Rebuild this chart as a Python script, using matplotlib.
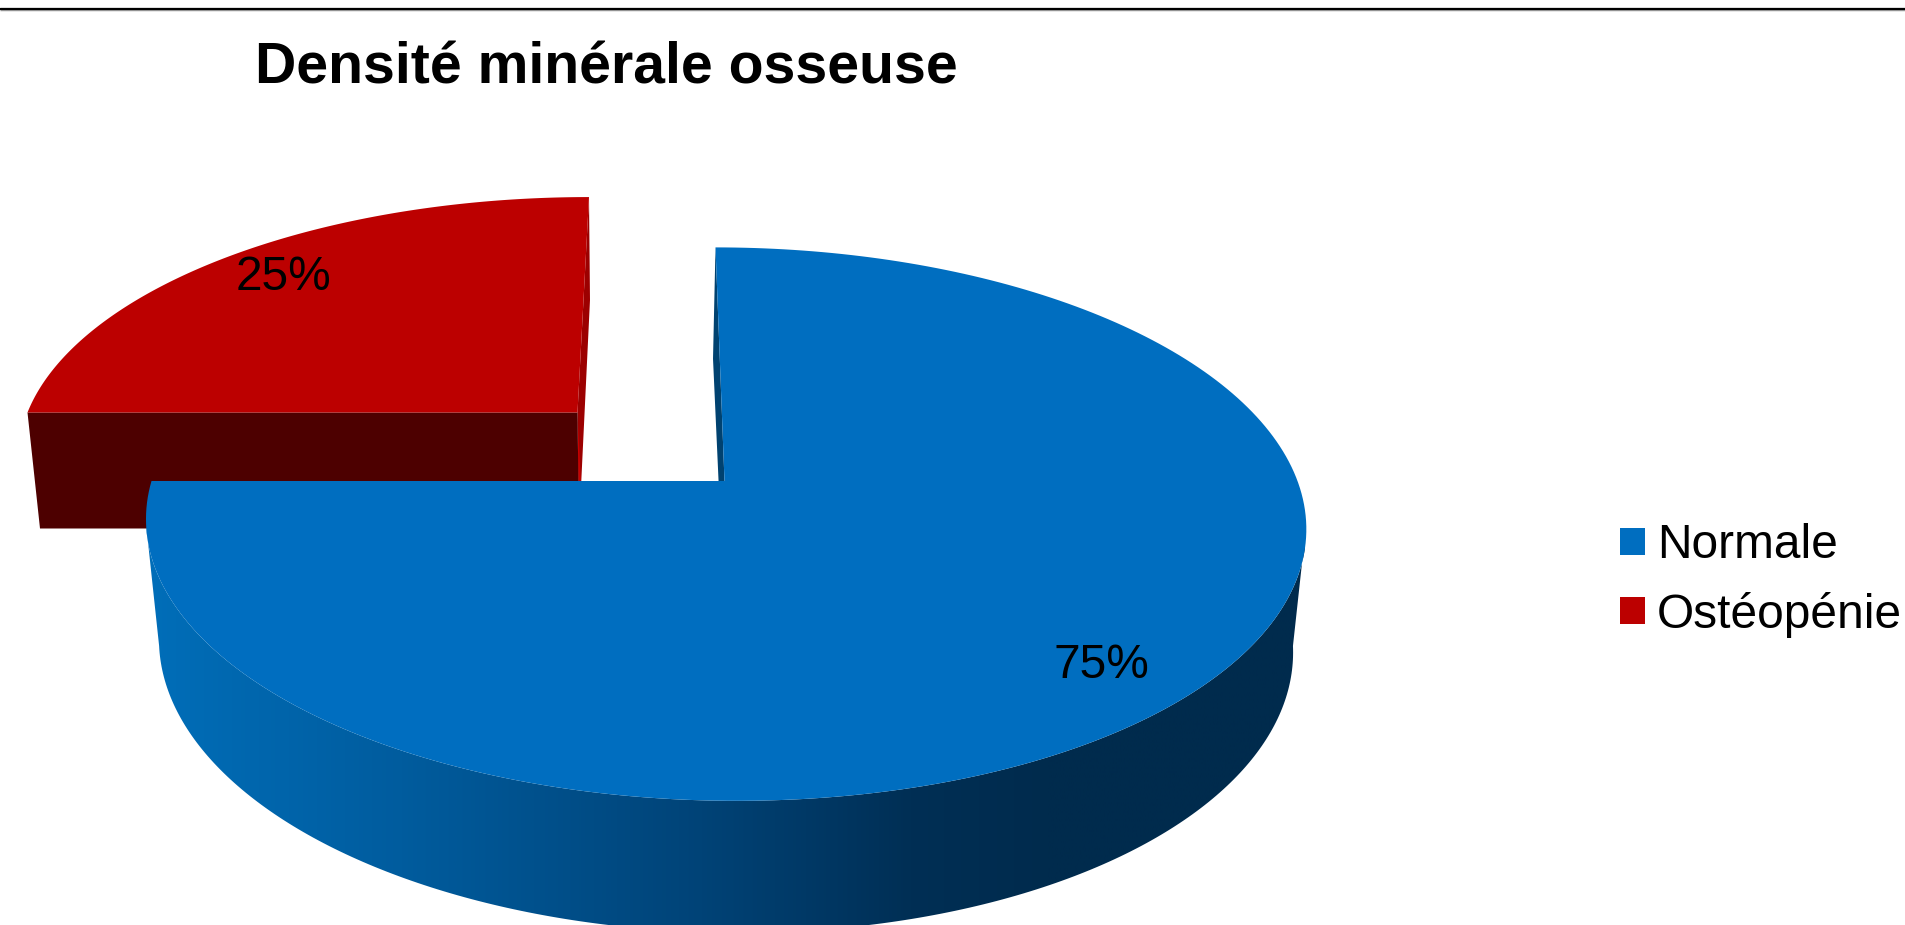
import numpy as np
import matplotlib
matplotlib.use("Agg")
import matplotlib.pyplot as plt
from matplotlib.colors import LinearSegmentedColormap
from matplotlib.patches import Polygon, Patch

plt.rcParams["font.family"] = ["Liberation Sans", "DejaVu Sans"]

TITLE = "Densité minérale osseuse"
categories = ["Normale", "Ostéopénie"]
values = [75, 25]
colors = ["#006EC0", "#BC0000"]

W, H = 1905, 925
fig = plt.figure(figsize=(W / 100, H / 100), dpi=100, facecolor="white")
ax = fig.add_axes([0, 0, 1, 1])
ax.set_axis_off()

TILT = 0.1558  # foreshortening of the far side of the disc

# Each disc level: apex position, horizontal and vertical radius, shear
BLUE_TOP = dict(x0=724.5, y0=481.0, a=573.0, b=270.0, s=-10.4)
BLUE_BOT = dict(x0=724.0, y0=601.0, a=560.0, b=280.0, s=-12.7)
RED_TOP = dict(x0=577.5, y0=412.5, a=550.0, b=249.0, s=13.3)
RED_BOT = dict(x0=579.0, y0=528.5, a=539.0, b=264.0, s=12.7)


def project(theta_deg, level):
    """Map a rim angle on the unit circle to canvas pixels with a perspective divide."""
    t = np.radians(np.asarray(theta_deg, dtype=float))
    u, v = np.cos(t), np.sin(t)
    w = 1 + TILT * v
    x = level["x0"] + (level["a"] * u + level["s"] * v) / w
    y = level["y0"] - level["b"] * v / w
    return np.column_stack([x, y])


def apex(level):
    return np.array([[level["x0"], level["y0"]]])


def top_face(start, end, level):
    arc = project(np.linspace(start, end, 240), level)
    return np.vstack([apex(level), arc])


# Slice angles run clockwise from twelve o'clock
shares = np.array(values) / sum(values) * 360
blue_start, blue_end = 90.0, 90.0 - shares[0]
red_start, red_end = blue_end + 360.0, blue_end + 360.0 - shares[1]

# Separated slice: from the front only its cut face and inner sliver show
ax.add_patch(Polygon(np.vstack([project(red_end, RED_TOP), project(red_end, RED_BOT),
                                apex(RED_BOT), apex(RED_TOP)]),
                     closed=True, fc="#9C0000", ec="none", zorder=1))
ax.add_patch(Polygon(np.vstack([apex(RED_BOT) + [2.2, -40.0],
                                apex(RED_BOT), apex(RED_TOP)]),
                     closed=True, fc="#C80000", ec="none", zorder=1.1))
ax.add_patch(Polygon(np.vstack([apex(RED_TOP), project(red_start, RED_TOP),
                                project(red_start, RED_BOT), apex(RED_BOT)]),
                     closed=True, fc="#4D0000", ec="none", zorder=2))
ax.add_patch(Polygon(top_face(red_end, red_start, RED_TOP), closed=True,
                     fc=colors[1], ec="none", zorder=3))

# Main slice: outer wall with a left-to-right shading ramp
wall_theta = np.linspace(189, 351, 240)
wall_outline = np.vstack([project(wall_theta, BLUE_TOP),
                          project(wall_theta[::-1], BLUE_BOT)])
shade = LinearSegmentedColormap.from_list(
    "wall",
    [(0.00, "#006EB9"), (0.22, "#005C9E"), (0.48, "#004377"),
     (0.66, "#002F55"), (0.78, "#002B4D"), (1.00, "#002B4D")],
)
wall_patch = Polygon(wall_outline, closed=True, fc="none", ec="none",
                     transform=ax.transData)
ax.add_patch(wall_patch)
ramp = np.linspace(0, 1, 512).reshape(1, -1)
img = ax.imshow(ramp, cmap=shade, extent=(145, 1305, 950, 480),
                aspect="auto", zorder=4, interpolation="bilinear")
img.set_clip_path(wall_patch)

# Inner cut wall of the main slice, mostly hidden by its top face
ax.add_patch(Polygon(np.vstack([project(blue_start, BLUE_TOP), project(blue_start, BLUE_BOT),
                                apex(BLUE_BOT), apex(BLUE_TOP)]),
                     closed=True, fc="#004270", ec="none", zorder=4.5))
ax.add_patch(Polygon(top_face(blue_start, blue_end, BLUE_TOP), closed=True,
                     fc=colors[0], ec="none", zorder=5))

# Rule across the top of the slide: soft grey fringe under a black core
ax.hlines(9.2, 0, W, color="#9A9A9A", lw=2.5, zorder=6)
ax.hlines(9.0, 0, W, color="#000000", lw=1.5, zorder=6.1)

ax.text(255, 83, TITLE, fontsize=41.1, fontweight="bold", ha="left",
        va="baseline", color="black", zorder=7)

ax.text(1101.5, 678, f"{values[0]}%", fontsize=34.5, ha="center",
        va="baseline", color="black", zorder=7)
ax.text(283.5, 290, f"{values[1]}%", fontsize=34.5, ha="center",
        va="baseline", color="black", zorder=7)

handles = [Patch(fc=c, ec="none", label=n) for c, n in zip(colors, categories)]
ax.legend(handles=handles, loc="upper left", bbox_to_anchor=(1620, 523.5),
          bbox_transform=ax.transData, frameon=False, fontsize=34.5,
          handlelength=0.52, handleheight=0.52, handletextpad=0.25,
          labelspacing=0.48, borderpad=0, borderaxespad=0)

ax.set_xlim(0, W)
ax.set_ylim(H, 0)

fig.savefig("out.png", dpi=100, facecolor="white")
